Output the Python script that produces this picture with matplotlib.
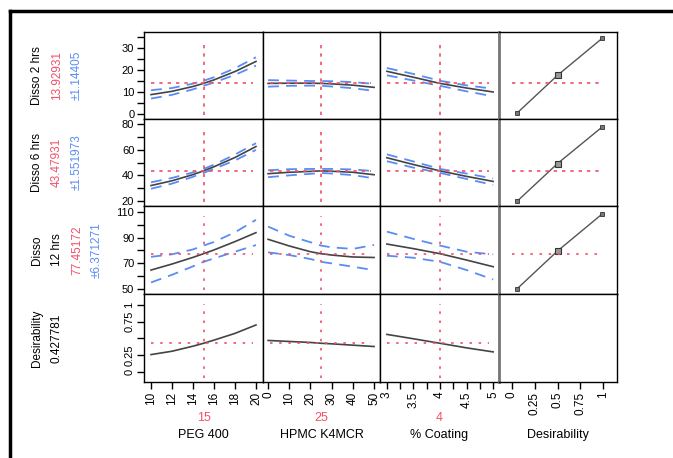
import matplotlib
matplotlib.use("Agg")
import matplotlib.pyplot as plt
from matplotlib.lines import Line2D

plt.rcParams["font.family"] = ["Liberation Sans", "DejaVu Sans"]

RED = "#f0506a"
BLUE = "#5a8cf5"
CURVE = "#444444"

# factor settings read along each profile
peg_x = [10, 12, 14, 15, 16, 18, 20]
hpmc_x = [0, 10, 20, 25, 30, 40, 50]
coat_x = [3, 3.5, 4, 4.5, 5]
current = [15, 25, 4]
factor_names = ["PEG 400", "HPMC K4MCR", "% Coating", "Desirability"]

# Disso 2 hrs
d2_peg = [8.8, 10.3, 12.5, 13.9, 15.5, 19.3, 23.9]
d2_peg_hi = [10.8, 11.8, 13.8, 15.1, 16.7, 20.8, 25.8]
d2_peg_lo = [7.0, 8.7, 11.2, 12.8, 14.3, 17.8, 22.0]
d2_hpmc = [13.9, 14.0, 14.0, 13.9, 13.7, 13.1, 12.1]
d2_hpmc_hi = [15.4, 15.2, 15.0, 15.0, 14.9, 14.5, 13.7]
d2_hpmc_lo = [12.4, 12.8, 12.9, 12.8, 12.5, 11.7, 10.5]
d2_coat = [19.4, 16.7, 13.9, 11.8, 10.0]
d2_coat_hi = [20.9, 18.2, 15.1, 13.0, 11.5]
d2_coat_lo = [17.6, 15.2, 12.8, 10.3, 8.0]

# Disso 6 hrs
d6_peg = [32.1, 35.8, 40.6, 43.5, 46.7, 53.9, 62.4]
d6_peg_hi = [34.6, 38.0, 42.3, 45.0, 48.3, 56.2, 65.0]
d6_peg_lo = [29.6, 33.6, 38.9, 41.9, 45.1, 51.6, 59.8]
d6_hpmc = [41.3, 42.4, 43.1, 43.5, 43.2, 42.4, 40.5]
d6_hpmc_hi = [44.0, 44.8, 45.0, 45.0, 45.0, 44.6, 43.3]
d6_hpmc_lo = [38.6, 40.0, 41.2, 41.9, 41.4, 40.2, 37.7]
d6_coat = [53.7, 48.4, 43.5, 39.2, 35.3]
d6_coat_hi = [56.3, 50.8, 45.0, 41.4, 37.6]
d6_coat_lo = [51.0, 46.0, 41.9, 37.2, 32.6]

# Disso 12 hrs
d12_peg = [64.7, 69.4, 74.6, 77.45, 80.4, 86.9, 93.9]
d12_peg_hi = [75.0, 77.0, 80.8, 83.8, 86.6, 94.2, 103.9]
d12_peg_lo = [55.0, 61.0, 67.6, 71.1, 73.8, 79.0, 84.2]
d12_hpmc = [88.7, 83.5, 79.0, 77.45, 76.4, 74.9, 74.5]
d12_hpmc_hi = [98.6, 91.5, 86.4, 83.8, 82.4, 81.2, 84.3]
d12_hpmc_lo = [78.5, 76.4, 73.3, 71.1, 69.9, 67.3, 64.6]
d12_coat = [85.0, 81.4, 77.45, 72.5, 67.3]
d12_coat_hi = [94.7, 89.0, 83.8, 79.0, 76.9]
d12_coat_lo = [75.9, 74.3, 71.1, 64.7, 57.3]

# overall desirability
des_peg = [0.26, 0.31, 0.385, 0.428, 0.475, 0.575, 0.70]
des_hpmc = [0.47, 0.455, 0.44, 0.428, 0.42, 0.40, 0.38]
des_coat = [0.56, 0.495, 0.428, 0.36, 0.30]

# desirability functions (desirability, response)
dfun_des = [0.06, 0.5, 0.99]
dfun_d2 = [0.5, 17.6, 34.5]
dfun_d6 = [20.0, 49.2, 77.7]
dfun_d12 = [50.2, 79.6, 108.6]

pred = [13.92931, 43.47931, 77.45172, 0.427781]
pred_text = ["13.92931", "43.47931", "77.45172", "0.427781"]
ci_text = ["\u00b11.14405", "\u00b11.551973", "\u00b16.371271", None]

xs = [peg_x, hpmc_x, coat_x]
rows = [
    [(d2_peg, d2_peg_hi, d2_peg_lo), (d2_hpmc, d2_hpmc_hi, d2_hpmc_lo), (d2_coat, d2_coat_hi, d2_coat_lo)],
    [(d6_peg, d6_peg_hi, d6_peg_lo), (d6_hpmc, d6_hpmc_hi, d6_hpmc_lo), (d6_coat, d6_coat_hi, d6_coat_lo)],
    [(d12_peg, d12_peg_hi, d12_peg_lo), (d12_hpmc, d12_hpmc_hi, d12_hpmc_lo), (d12_coat, d12_coat_hi, d12_coat_lo)],
    [(des_peg, None, None), (des_hpmc, None, None), (des_coat, None, None)],
]
dfuns = [dfun_d2, dfun_d6, dfun_d12, None]

ylims = [(-2.3, 37.3), (16.2, 83.8), (46, 114.7), (-0.147, 1.16)]
xlims = [(9.33, 20.67), (-2.4, 52.8), (2.87, 5.11), (-0.14, 1.15)]
ymajor = [[0, 10, 20, 30], [20, 40, 60, 80], [50, 70, 90, 110], [0, 0.25, 0.5, 0.75, 1]]
yminor = [[5, 15, 25, 35], [30, 50, 70], [60, 80, 100], []]
xmajor = [[10, 12, 14, 16, 18, 20], [0, 10, 20, 30, 40, 50], [3, 3.5, 4, 4.5, 5], [0, 0.25, 0.5, 0.75, 1]]
xmajor_lbl = [["10", "12", "14", "16", "18", "20"], ["0", "10", "20", "30", "40", "50"],
              ["3", "3.5", "4", "4.5", "5"], ["0", "0.25", "0.5", "0.75", "1"]]
xminor = [[], [], [3.25, 3.75, 4.25, 4.75], []]

W, H = 673, 458
col_edges = [144, 263, 380, 499, 617]
row_edges = [32, 119, 206, 294, 382]

fig = plt.figure(figsize=(W / 100, H / 100), dpi=100)

for i in range(4):
    y0, y1 = row_edges[i], row_edges[i + 1]
    ls_cross = (0, (2, 3)) if i < 2 else (0, (1.5, 4))
    for j in range(4):
        x0, x1 = col_edges[j], col_edges[j + 1]
        ax = fig.add_axes([x0 / W, 1 - y1 / H, (x1 - x0) / W, (y1 - y0) / H])
        ax.set_xlim(*xlims[j])
        ax.set_ylim(*ylims[i])
        for sp in ax.spines.values():
            sp.set_linewidth(1.0)
            sp.set_color("black")
        if j == 3:
            ax.spines["left"].set_color("#777777")
            ax.spines["left"].set_linewidth(2.0)

        if j < 3:
            y, hi, lo = rows[i][j]
            if hi is not None:
                ax.plot(xs[j], hi, color=BLUE, lw=1.3, dashes=(6, 4))
                ax.plot(xs[j], lo, color=BLUE, lw=1.3, dashes=(6, 4))
            ax.plot(xs[j], y, color=CURVE, lw=1.2)
            ax.axvline(current[j], ymin=0.05, ymax=0.885, color=RED, lw=1.2, ls=ls_cross)
            ax.axhline(pred[i], xmin=0.06, xmax=0.92, color=RED, lw=1.2, ls=ls_cross)
        elif dfuns[i] is not None:
            ax.plot(dfun_des, dfuns[i], color="#555555", lw=1.0)
            ax.plot(dfun_des[1], dfuns[i][1], marker="s", ms=4.5, mfc="#999999", mec="#333333", mew=0.8)
            ax.plot([dfun_des[0], dfun_des[2]], [dfuns[i][0], dfuns[i][2]], ls="none",
                    marker="s", ms=2.2, mfc="#777777", mec="#333333", mew=0.6)
            ax.axhline(pred[i], xmin=0.11, xmax=0.85, color=RED, lw=1.2, ls=ls_cross)

        # y axis ticks on the first column
        if j == 0:
            ax.set_yticks(ymajor[i])
            ax.set_yticks(yminor[i], minor=True)
            if i == 3:
                ax.set_yticklabels(["0", "0.25", "", "0.75", "1"], rotation=90, va="center")
            ax.tick_params(axis="y", which="both", direction="out", length=5, width=1,
                           labelsize=8, pad=2)
        else:
            ax.tick_params(axis="y", which="both", left=False, labelleft=False)

        # x axis ticks on the last row
        if i == 3:
            ax.set_xticks(xmajor[j])
            ax.set_xticklabels(xmajor_lbl[j], rotation=90, va="top", ha="center")
            ax.set_xticks(xminor[j], minor=True)
            ax.tick_params(axis="x", which="both", direction="out", length=5, width=1,
                           labelsize=8.5, pad=2)
            cx = (x0 + x1) / 2 / W
            if j < 3:
                fig.text(cx, 1 - 418 / H, str(current[j]), color=RED, fontsize=9,
                         ha="center", va="center")
            fig.text(cx, 1 - 435 / H, factor_names[j], fontsize=9, ha="center", va="center")
        else:
            ax.tick_params(axis="x", which="both", bottom=False, labelbottom=False)

# response labels on the left
row_names = [["Disso 2 hrs"], ["Disso 6 hrs"], ["Disso", "12 hrs"], ["Desirability"]]
for i in range(4):
    cy = 1 - (row_edges[i] + row_edges[i + 1]) / 2 / H
    x = 37
    for name in row_names[i]:
        fig.text(x / W, cy, name, rotation=90, fontsize=8.5, ha="center", va="center")
        x += 20
    fig.text(x / W, cy, pred_text[i], rotation=90, fontsize=8.5, ha="center", va="center",
             color=RED if i < 3 else "black")
    x += 20
    if ci_text[i]:
        fig.text(x / W, cy, ci_text[i], rotation=90, fontsize=8.5, ha="center", va="center",
                 color=BLUE)

# outer frame
fig.add_artist(Line2D([10 / W, 1], [1 - 11 / H, 1 - 11 / H], color="black", lw=2.5,
                      transform=fig.transFigure))
fig.add_artist(Line2D([10 / W, 10 / W], [0, 1 - 11 / H], color="black", lw=2.5,
                      transform=fig.transFigure))

fig.savefig("out.png", dpi=100)
